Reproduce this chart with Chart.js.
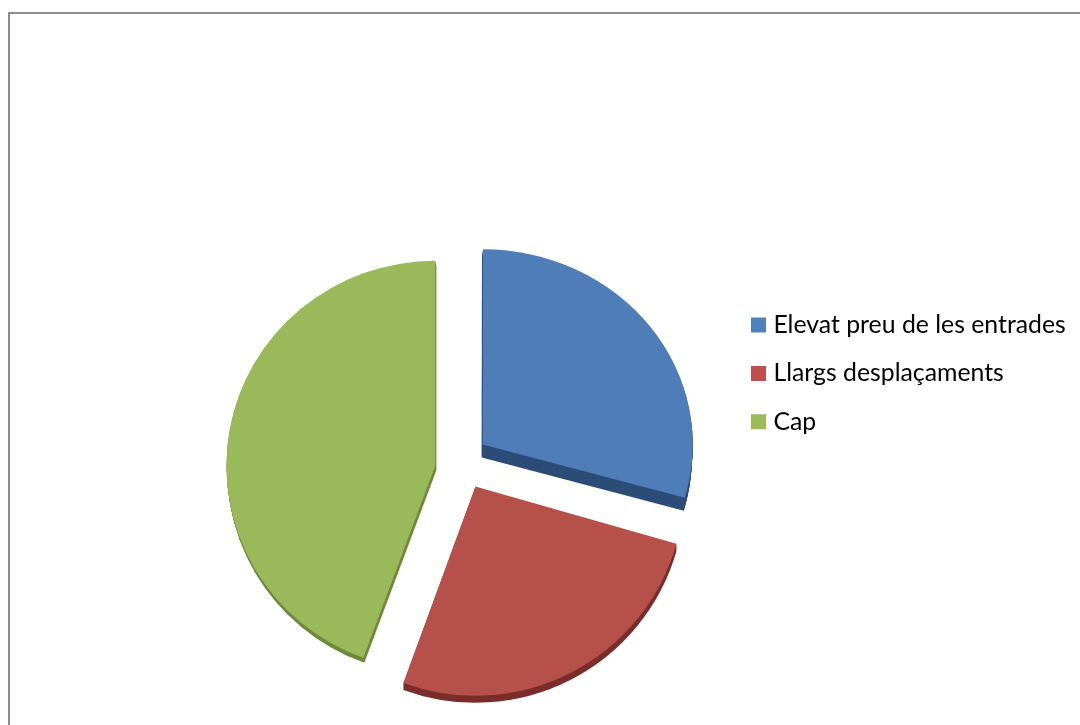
<!DOCTYPE html>
<html>
<head>
<meta charset="utf-8">
<script src="https://cdn.jsdelivr.net/npm/chart.js@4"></script>
<style>
  html, body { margin: 0; background: #fff; overflow: hidden; }
  canvas { display: block; }
</style>
</head>
<body>
<canvas id="myChart" width="1080" height="725"></canvas>
<script>
// dades
const categories = ['Elevat preu de les entrades', 'Llargs desplaçaments', 'Cap'];
const values = [29.4, 26.2, 44.4];

// colors
const sliceColors = ['#4e7db7', '#b6504b', '#9ab95a'];
const wallColors = ['#2d4d78', '#7a2e2b', '#6f8a3a'];
const legendColors = ['#4f81bd', '#c0504d', '#9bbb59'];

// gruix del pastís 3D per porció [x, y]
const walls = [[-1, 13], [0, 7], [1, 5]];
// perspectiva: escala vertical i desplaçament per porció
const tiltY = [0.93, 1, 0.98];
const shiftX = [-1.5, 0, -27];
const shiftY = [-1, 0, 4.6];

// línies del marc, el legend a mà, i la vora 3D
const piePlugin = {
  id: 'piePlugin',
  afterLayout(chart) {
    chart.legend.left = 732.4;
    chart.legend.top = 289;
  },
  beforeDraw(chart) {
    const c = chart.ctx;
    c.save();
    c.strokeStyle = '#8c8c8c';
    c.lineWidth = 2;
    c.beginPath();
    c.moveTo(9, 725);
    c.lineTo(9, 13);
    c.lineTo(1080, 13);
    c.stroke();
    c.restore();
  },
  // dibuixa cada porció amb la seva paret fosca al darrere
  beforeDatasetsDraw(chart) {
    const c = chart.ctx;
    chart.getDatasetMeta(0).data.forEach((arc, i) => {
      const opts = arc.options;
      const steps = Math.max(Math.abs(walls[i][0]), Math.abs(walls[i][1]));
      const place = (dx, dy) => {
        c.translate(dx + shiftX[i], dy + shiftY[i]);
        c.translate(arc.x, arc.y);
        c.scale(1, tiltY[i]);
        c.translate(-arc.x, -arc.y);
      };
      arc.options = Object.assign({}, opts, { backgroundColor: wallColors[i] });
      for (let s = steps; s > 0; s--) {
        c.save();
        place(walls[i][0] * s / steps, walls[i][1] * s / steps);
        arc.draw(c);
        c.restore();
      }
      arc.options = opts;
      c.save();
      place(0, 0);
      arc.draw(c);
      c.restore();
    });
    return false;
  }
};

new Chart(document.getElementById('myChart'), {
  type: 'pie',
  data: {
    labels: categories,
    datasets: [{
      data: values,
      backgroundColor: sliceColors,
      borderWidth: 0,
      offset: [110, 115, 0],
      radius: 209
    }]
  },
  options: {
    responsive: false,
    animation: false,
    layout: { padding: { left: 188, top: 197, bottom: 0 } },
    plugins: {
      tooltip: { enabled: false },
      legend: {
        position: 'right',
        align: 'start',
        labels: {
          font: { family: 'Lato', size: 24.8 },
          color: '#000',
          boxWidth: 5,
          boxHeight: 5,
          padding: 23.6,
          generateLabels: () => categories.map((t, i) => ({
            text: t,
            fillStyle: legendColors[i],
            strokeStyle: legendColors[i],
            lineWidth: 10,
            index: i
          }))
        }
      }
    }
  },
  plugins: [piePlugin]
});
</script>
</body>
</html>
